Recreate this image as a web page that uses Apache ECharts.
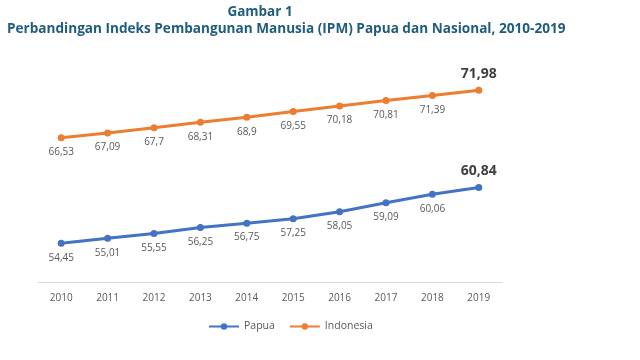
<!DOCTYPE html>
<html><head><meta charset="utf-8">
<script src="https://cdn.jsdelivr.net/npm/echarts@6/dist/echarts.min.js"></script>
<style>html,body{margin:0;padding:0;background:#fff}#c{width:640px;height:360px}</style>
</head><body><div id="c"></div>
<script>
var years = ['2010','2011','2012','2013','2014','2015','2016','2017','2018','2019'];
var papua = [54.45, 55.01, 55.55, 56.25, 56.75, 57.25, 58.05, 59.09, 60.06, 60.84];
var indonesia = [66.53, 67.09, 67.7, 68.31, 68.9, 69.55, 70.18, 70.81, 71.39, 71.98];
var titleLine1 = 'Gambar 1';
var titleLine2 = 'Perbandingan Indeks Pembangunan Manusia (IPM) Papua dan Nasional, 2010-2019';

var FONT = '"Open Sans", sans-serif';
function fmt(v){ return String(v).replace('.', ','); }
function makeData(arr){
  return arr.map(function(v, i){
    if (i === arr.length - 1) {
      return {value: v, label: {position: 'top', distance: 6, fontSize: 14, fontWeight: 'bold', color: '#404040'}};
    }
    return v;
  });
}
var chart = echarts.init(document.getElementById('c'));
chart.setOption({
  animation: false,
  title: [
    {text: titleLine1, left: 255, top: 0, textAlign: 'center',
     textStyle: {fontFamily: FONT, fontSize: 13.5, fontWeight: 'bold', color: '#1F5C7E'}},
    {text: titleLine2, left: 2, top: 17,
     textStyle: {fontFamily: FONT, fontSize: 13.6, fontWeight: 'bold', color: '#1F5C7E'}}
  ],
  legend: {
    left: 203, top: 316, itemWidth: 30, itemHeight: 8, itemGap: 14,
    textStyle: {fontFamily: FONT, fontSize: 10.5, color: '#595959'},
    data: ['Papua', 'Indonesia']
  },
  grid: {left: 38, right: 138, top: 64, bottom: 78},
  xAxis: {
    type: 'category', data: years, boundaryGap: true,
    axisLine: {lineStyle: {color: '#D9D9D9'}},
    axisTick: {show: false},
    axisLabel: {fontFamily: FONT, fontSize: 10, color: '#595959', margin: 11}
  },
  yAxis: {type: 'value', min: 50, max: 75, show: false, splitLine: {show: false}},
  series: [
    {name: 'Papua', type: 'line', data: makeData(papua), symbol: 'circle', symbolSize: 7,
     itemStyle: {color: '#4472C4'}, lineStyle: {width: 3, color: '#4472C4'},
     label: {show: true, position: 'bottom', distance: 6, fontFamily: FONT, fontSize: 10, color: '#595959',
       formatter: function(p){ return fmt(p.value); }}},
    {name: 'Indonesia', type: 'line', data: makeData(indonesia), symbol: 'circle', symbolSize: 7,
     itemStyle: {color: '#ED7D31'}, lineStyle: {width: 3, color: '#ED7D31'},
     label: {show: true, position: 'bottom', distance: 6, fontFamily: FONT, fontSize: 10, color: '#595959',
       formatter: function(p){ return fmt(p.value); }}}
  ]
});
</script></body></html>
